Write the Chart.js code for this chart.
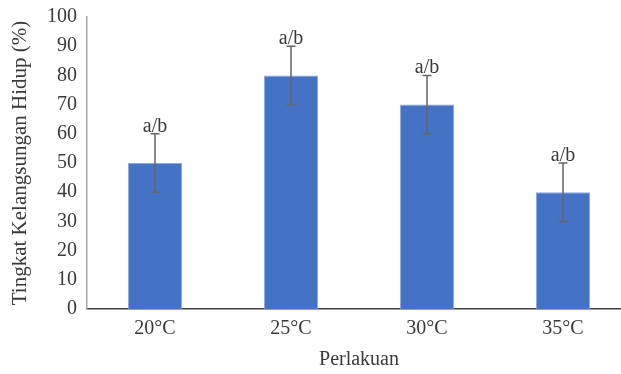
<!DOCTYPE html>
<html><head><meta charset="utf-8">
<script src="https://cdn.jsdelivr.net/npm/chart.js@4.4.0/dist/chart.umd.min.js"></script>
<style>html,body{margin:0;padding:0;overflow:hidden;background:#fff}#wrap{width:640px;height:374px}</style>
</head><body><div id="wrap"><canvas id="c" width="640" height="374"></canvas></div>
<script>
const categories = ['20°C', '25°C', '30°C', '35°C'];
const survival = [50, 80, 70, 40];
const errors = [10, 10, 10, 10];
const notes = ['a/b', 'a/b', 'a/b', 'a/b'];
const yTicks = [0, 10, 20, 30, 40, 50, 60, 70, 80, 90, 100];

const FONT = "'Liberation Serif', 'Times New Roman', serif";
const TXT = '#3a3a3a';

const errPlugin = {
  id: 'errbars',
  afterDatasetsDraw(chart) {
    const ctx = chart.ctx, y = chart.scales.y;
    const meta = chart.getDatasetMeta(0);
    ctx.save();
    meta.data.forEach((bar, i) => {
      const x = bar.x;
      const hi = y.getPixelForValue(survival[i] + errors[i]);
      const lo = y.getPixelForValue(survival[i] - errors[i]);
      ctx.strokeStyle = '#666666';
      ctx.lineWidth = 1.5;
      ctx.beginPath();
      ctx.moveTo(x, hi); ctx.lineTo(x, lo);
      ctx.moveTo(x - 4.5, hi); ctx.lineTo(x + 4.5, hi);
      ctx.moveTo(x - 4.5, lo); ctx.lineTo(x + 4.5, lo);
      ctx.stroke();
      ctx.fillStyle = TXT;
      ctx.font = '20px ' + FONT;
      ctx.textAlign = 'center';
      ctx.textBaseline = 'alphabetic';
      ctx.fillText(notes[i], x, hi - 2);
    });
    ctx.restore();
  }
};

new Chart(document.getElementById('c'), {
  type: 'bar',
  data: {
    labels: categories,
    datasets: [{
      data: survival,
      backgroundColor: '#4472C4',
      borderColor: '#8EA9DB',
      borderWidth: 1,
      barPercentage: 0.4,
      categoryPercentage: 1.0
    }]
  },
  options: {
    responsive: false,
    animation: false,
    layout: { padding: { top: 17, right: 9, left: 0, bottom: 0 } },
    plugins: { legend: { display: false }, tooltip: { enabled: false } },
    scales: {
      x: {
        grid: { display: false, drawTicks: false },
        border: { color: '#404040', width: 1.5 },
        ticks: { color: TXT, font: { family: FONT, size: 20 }, padding: 8 },
        title: { display: true, text: 'Perlakuan', color: TXT, font: { family: FONT, size: 20 }, padding: { top: 0, bottom: 2 } },
        afterFit(s) { s.height = 65; }
      },
      y: {
        min: 0, max: 100,
        afterBuildTicks(s) { s.ticks = yTicks.map(v => ({ value: v })); },
        grid: { display: false, drawTicks: false },
        border: { color: '#a6a6a6', width: 1.5 },
        ticks: { color: TXT, font: { family: FONT, size: 20 }, padding: 10 },
        title: { display: true, text: 'Tingkat Kelangsungan Hidup (%)', color: TXT, font: { family: FONT, size: 21 }, padding: { top: 8, bottom: 0 } },
        afterFit(s) { s.width = 87; s.paddingTop = 0; s.paddingBottom = 0; }
      }
    }
  },
  plugins: [errPlugin]
});
</script></body></html>
